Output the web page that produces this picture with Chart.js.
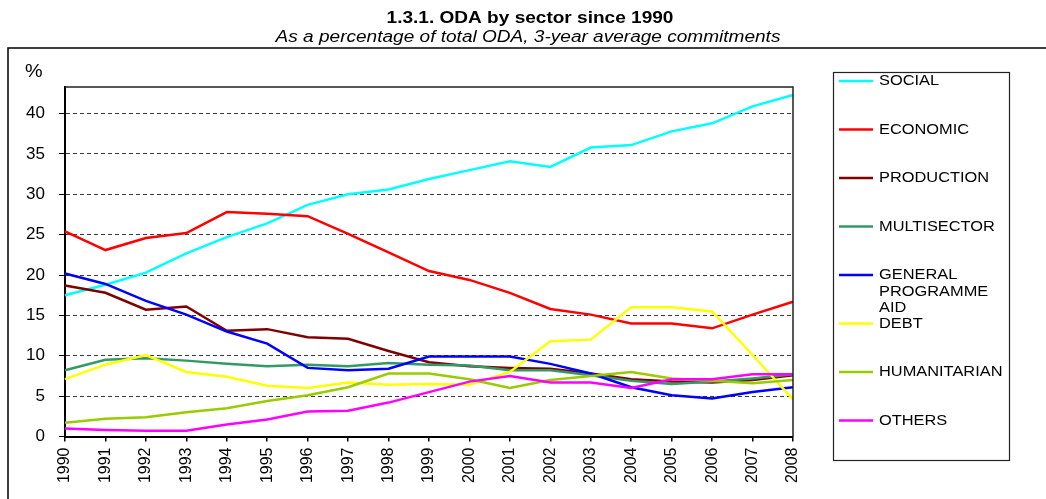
<!DOCTYPE html>
<html>
<head>
<meta charset="utf-8">
<script src="https://cdn.jsdelivr.net/npm/chart.js@4"></script>
<style>
  html, body { margin: 0; padding: 0; background: #fff; }
  #wrap { width: 1046px; height: 499px; }
</style>
</head>
<body>
<div id="wrap"><canvas id="odaChart" width="1046" height="499"></canvas></div>
<script>
// values, % of total ODA
const years = ['1990', '1991', '1992', '1993', '1994', '1995', '1996', '1997', '1998', '1999',
  '2000', '2001', '2002', '2003', '2004', '2005', '2006', '2007', '2008'];

const social       = [17.5, 18.8, 20.3, 22.7, 24.7, 26.4, 28.7, 30.0, 30.6, 31.9, 33.0, 34.1, 33.4, 35.8, 36.1, 37.8, 38.8, 40.9, 42.3];
const economic     = [25.4, 23.1, 24.6, 25.2, 27.8, 27.6, 27.3, 25.1, 22.8, 20.5, 19.4, 17.8, 15.8, 15.1, 14.0, 14.0, 13.4, 15.1, 16.7];
const production   = [18.7, 17.8, 15.7, 16.1, 13.1, 13.3, 12.3, 12.1, 10.6, 9.2, 8.7, 8.5, 8.4, 7.8, 7.1, 6.8, 6.7, 7.0, 7.6];
const multisector  = [8.2, 9.5, 9.7, 9.4, 9.0, 8.7, 8.9, 8.7, 9.1, 8.9, 8.8, 8.2, 8.2, 7.6, 6.9, 6.5, 6.8, 7.2, 7.7];
const programmeAid = [20.2, 18.9, 16.8, 15.1, 13.0, 11.5, 8.5, 8.2, 8.4, 9.9, 9.9, 9.9, 9.0, 7.8, 6.1, 5.1, 4.7, 5.5, 6.1];
const debt         = [7.1, 8.9, 10.1, 8.0, 7.4, 6.3, 6.0, 6.7, 6.4, 6.5, 6.4, 8.0, 11.8, 12.0, 16.0, 16.0, 15.5, 10.1, 4.6];
const humanitarian = [1.7, 2.2, 2.4, 3.0, 3.5, 4.4, 5.1, 6.1, 7.8, 7.8, 7.1, 6.0, 7.0, 7.5, 8.0, 7.2, 6.9, 6.6, 7.0];
const others       = [1.0, 0.8, 0.7, 0.7, 1.5, 2.1, 3.1, 3.2, 4.2, 5.5, 6.8, 7.5, 6.7, 6.7, 6.0, 7.1, 7.1, 7.7, 7.7];

const seriesNames = ['SOCIAL', 'ECONOMIC', 'PRODUCTION', 'MULTISECTOR', 'GENERAL\nPROGRAMME\nAID', 'DEBT', 'HUMANITARIAN', 'OTHERS'];
const seriesData = [social, economic, production, multisector, programmeAid, debt, humanitarian, others];
const seriesColors = ['#00FFFF', '#FF0000', '#800000', '#339966', '#0000FF', '#FFFF00', '#99CC00', '#FF00FF'];

const yTicks = [0, 5, 10, 15, 20, 25, 30, 35, 40];
const yMax = 43.3;

const chartTitle = '1.3.1. ODA by sector since 1990';
const chartSubtitle = 'As a percentage of total ODA, 3-year average commitments';

const FONT = '"Liberation Sans", Arial, Helvetica, sans-serif';

// the reference text is a bit wider than Arial, so stretch it sideways
function wideText(ctx, text, x, y, stretch) {
  ctx.save();
  ctx.translate(x, y);
  ctx.scale(stretch, 1);
  ctx.fillText(text, 0, 0);
  ctx.restore();
}

/**
 * Frame, titles, plot box and the boxed legend on the right
 */
const decorPlugin = {
  id: 'decor',
  beforeDraw(chart) {
    const ctx = chart.ctx;
    ctx.save();
    ctx.fillStyle = '#fff';
    ctx.fillRect(0, 0, chart.width, chart.height);

    // outer frame (top and left edge only visible)
    ctx.strokeStyle = '#000';
    ctx.lineWidth = 1.5;
    ctx.beginPath();
    ctx.moveTo(8, chart.height);
    ctx.lineTo(8, 48);
    ctx.lineTo(chart.width, 48);
    ctx.stroke();

    ctx.fillStyle = '#000';
    ctx.textAlign = 'center';
    ctx.textBaseline = 'middle';
    ctx.font = 'bold 16px ' + FONT;
    wideText(ctx, chartTitle, 530, 19, 1.19);
    ctx.font = 'italic 16px ' + FONT;
    wideText(ctx, chartSubtitle, 528, 38, 1.19);

    ctx.textAlign = 'left';
    ctx.font = '18px ' + FONT;
    wideText(ctx, '%', 25, 72, 1.1);
    ctx.restore();
  },
  afterDraw(chart) {
    const ctx = chart.ctx;
    const area = chart.chartArea;
    ctx.save();

    // top and right edge of the plot box
    ctx.strokeStyle = '#222';
    ctx.lineWidth = 1.5;
    ctx.beginPath();
    ctx.moveTo(area.left, area.top);
    ctx.lineTo(area.right, area.top);
    ctx.lineTo(area.right, area.bottom);
    ctx.stroke();

    // legend box
    ctx.strokeStyle = '#222';
    ctx.lineWidth = 1.2;
    ctx.strokeRect(833.5, 72.5, 176, 388);

    ctx.font = '14px ' + FONT;
    ctx.textAlign = 'left';
    ctx.textBaseline = 'middle';
    chart.data.datasets.forEach((ds, i) => {
      const y = 81 + i * 48.5;
      ctx.strokeStyle = ds.borderColor;
      ctx.lineWidth = 2.5;
      ctx.beginPath();
      ctx.moveTo(839, y);
      ctx.lineTo(873, y);
      ctx.stroke();
      ctx.fillStyle = '#000';
      seriesNames[i].split('\n').forEach((line, j) => {
        wideText(ctx, line, 879, y + 0.5 + j * 16.2, 1.17);
      });
    });
    ctx.restore();
  }
};

const datasets = seriesData.map((values, i) => ({
  label: seriesNames[i].replace(/\n/g, ' '),
  data: values,
  borderColor: seriesColors[i],
  backgroundColor: seriesColors[i],
  borderWidth: 2.5,
  pointRadius: 0,
  tension: 0,
  fill: false,
  order: seriesData.length - i
}));

const ctx = document.getElementById('odaChart').getContext('2d');
new Chart(ctx, {
  type: 'line',
  data: {
    labels: years,
    datasets: datasets
  },
  options: {
    responsive: false,
    animation: false,
    layout: {
      padding: { top: 87, left: 0, right: 253, bottom: 0 }
    },
    plugins: {
      legend: { display: false },
      title: { display: false },
      tooltip: { enabled: false }
    },
    scales: {
      x: {
        offset: false,
        afterFit(scale) { scale.height = 62.5; },
        grid: {
          drawOnChartArea: false,
          drawTicks: true,
          tickLength: 5,
          color: '#000',
          lineWidth: 1.5
        },
        border: { display: true, color: '#000', width: 2 },
        ticks: {
          color: '#000',
          font: { family: FONT, size: 16 },
          maxRotation: 90,
          minRotation: 90,
          padding: 6,
          autoSkip: false
        }
      },
      y: {
        min: 0,
        max: yMax,
        afterFit(scale) { scale.width = 65; },
        afterBuildTicks(scale) {
          scale.ticks = yTicks.map(v => ({ value: v }));
        },
        grid: {
          color: (c) => (c.tick && c.tick.value === 0 ? 'transparent' : '#3a3a3a'),
          tickColor: '#000',
          lineWidth: 1,
          tickLength: 6
        },
        border: { display: true, color: '#000', width: 2, dash: [4, 3] },
        ticks: {
          color: '#000',
          font: { family: FONT, size: 17 },
          padding: 14
        }
      }
    }
  },
  plugins: [decorPlugin]
});
</script>
</body>
</html>
